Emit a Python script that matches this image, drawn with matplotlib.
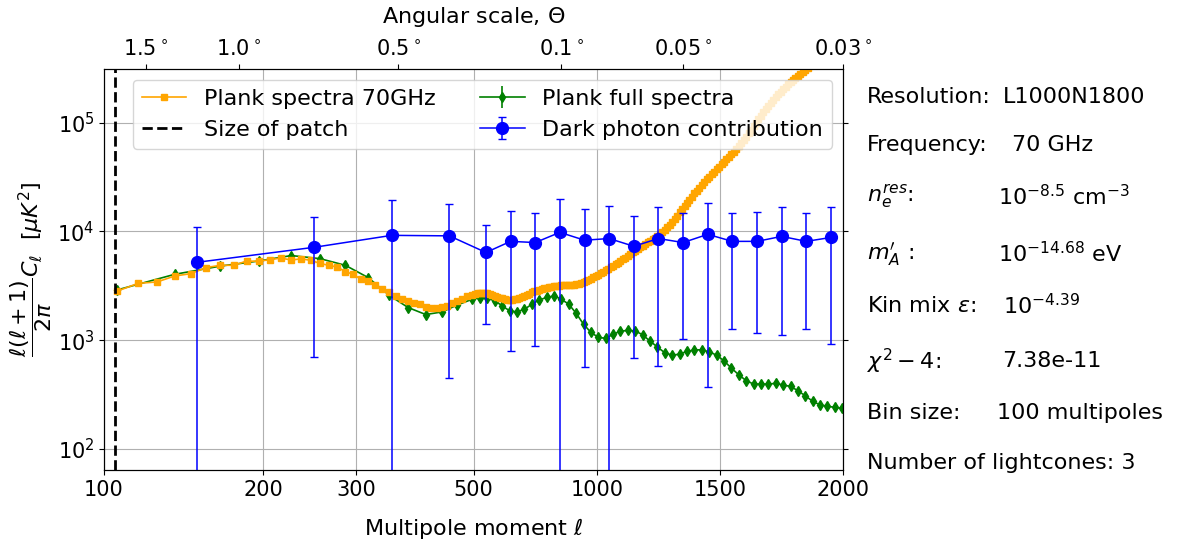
import numpy as np
import matplotlib
matplotlib.use("Agg")
import matplotlib.pyplot as plt
from matplotlib.ticker import FixedLocator, FixedFormatter, NullLocator

# ---------------- data ----------------
# Planck 70 GHz spectrum (orange), sampled every 10 multipoles
orange_ell = np.arange(106, 1857, 10)
orange_val = [
    2830, 3330, 3430, 3890, 4090, 4650, 4880, 4880, 5340, 5310,
    5500, 5690, 5455, 5600, 5420, 5086, 4876, 4706, 4266, 4031,
    3630, 3500, 3216, 2938, 2750, 2540, 2400, 2290, 2200, 2138,
    2030, 1970, 1980, 2010, 2065, 2210, 2303, 2404, 2535, 2620,
    2640, 2700, 2730, 2740, 2740, 2730, 2680, 2620, 2560, 2510,
    2455, 2420, 2377, 2350, 2340, 2350, 2377, 2400, 2430, 2480,
    2550, 2620, 2680, 2760, 2820, 2860, 2900, 2950, 3000, 3030,
    3070, 3100, 3130, 3160, 3180, 3200, 3200, 3210, 3220, 3230,
    3240, 3266, 3300, 3335, 3400, 3480, 3560, 3670, 3770, 3870,
    4000, 4120, 4260, 4390, 4530, 4680, 4830, 4980, 5140, 5310,
    5530, 5710, 5900, 6150, 6420, 6620, 6870, 7130, 7360, 7680,
    7930, 8180, 8450, 8720, 9000, 9290, 9790, 10200, 10900, 11470,
    12220, 13020, 13880, 14940, 15920, 17130, 18250, 19640, 20940, 22540,
    23760, 25310, 26980, 28750, 30300, 31950, 33680, 35500, 37430, 39460,
    41600, 43850, 46230, 48730, 51370, 54160, 57720, 61500, 65550, 69850,
    74440, 80090, 86170, 92710, 99750, 107300, 115500, 124200, 132400, 142400,
    151800, 161700, 172400, 181900, 191900, 202400, 213500, 225200, 235000, 247900,
    258600, 269800, 281400, 293600, 306300, 319600,
]

# Planck full spectrum (green), sampled every 30 multipoles
green_ell = np.arange(106, 1997, 30)
green_val = [
    2900, 4030, 4800, 5340, 6000, 5620, 4880, 3760, 2590, 1995,
    1720, 1820, 2110, 2370, 2460, 2420, 2300, 2070, 1860, 1820,
    1920, 2140, 2340, 2470, 2550, 2380, 2140, 1770, 1400, 1180,
    1060, 1040, 1130, 1210, 1230, 1215, 1120, 980, 865, 765,
    728, 744, 787, 815, 815, 781, 728, 646, 553, 481,
    424, 395, 395, 395, 401, 387, 376, 343, 308, 274,
    254, 247, 241, 236,
]
green_err = [
    120, 160, 190, 210, 240, 220, 190, 150, 100, 80,
    70, 70, 80, 90, 100, 95, 90, 80, 75, 70,
    75, 85, 90, 100, 100, 95, 85, 70, 55, 45,
    42, 40, 45, 48, 49, 48, 45, 39, 35, 31,
    29, 30, 31, 33, 33, 31, 29, 26, 22, 19,
    17, 16, 16, 16, 16, 15, 15, 14, 12, 11,
    10, 10, 10, 10,
]

# Dark photon contribution (blue), bins of 100 multipoles
blue_ell = [150, 250, 350, 450, 550, 650, 750, 850, 950, 1050,
            1150, 1250, 1350, 1450, 1550, 1650, 1750, 1850, 1950]
blue_val = [5200, 7150, 9200, 9100, 6400, 8100, 7900, 9800, 8300, 8600,
            7300, 8600, 7900, 9400, 8100, 8100, 9000, 8100, 8800]
blue_err = [5700, 6450, 10100, 8650, 5000, 7300, 7020, 9900, 7730, 8700,
            6610, 8020, 6880, 9030, 6820, 6940, 7880, 6820, 7880]

patch_ell = 104.7

bottom_ticks = [100, 200, 300, 500, 1000, 1500, 2000]
bottom_labels = ["100", "200", "300", "500", "1000", "1500", "2000"]
top_tick_ell = [120, 180, 360, 855, 1350, 2000]
top_labels = [r"1.5$^\circ$", r"1.0$^\circ$", r"0.5$^\circ$",
              r"0.1$^\circ$", r"0.05$^\circ$", r"0.03$^\circ$"]

info_labels = ["Resolution:", "Frequency:", r"$n_e^{res}$:", r"$m_A'$ :",
               r"Kin mix $\varepsilon$:", r"$\chi^2-4$:", "Bin size:",
               "Number of lightcones: 3"]
info_values = ["L1000N1800", "70 GHz", r"$10^{-8.5}$ cm$^{-3}$",
               r"$10^{-14.68}$ eV", r"$10^{-4.39}$", "7.38e-11",
               "100 multipoles", ""]

# ---------------- scale: log up to 500, linear above ----------------
def fwd(l):
    l = np.asarray(l, dtype=float)
    lg = np.log10(np.clip(l, 1e-6, None))
    return np.where(l <= 500, (lg - 2.0) / np.log10(5.0), 1.0 + (l - 500.0) / 1500.0)

def inv(f):
    f = np.asarray(f, dtype=float)
    return np.where(f <= 1, 100.0 * 5.0 ** np.clip(f, -10, 1), 500.0 + 1500.0 * (f - 1.0))

FS = 16
TFS = 15
fig = plt.figure(figsize=(11.86, 5.45), dpi=100)
ax = fig.add_axes([0.0877, 0.1376, 0.711 - 0.0877, 0.873 - 0.1376])
ax.set_xscale('function', functions=(fwd, inv))
ax.set_yscale('log')

h1, = ax.plot(orange_ell, orange_val, color='orange', marker='s', markersize=5,
              linewidth=1.2, label='Plank spectra 70GHz', zorder=3)
h2 = ax.axvline(patch_ell, color='black', linestyle='--', linewidth=2,
                label='Size of patch', zorder=4)
h3 = ax.errorbar(green_ell, green_val, yerr=green_err, color='green', marker='d',
                 markersize=5, linewidth=1.2, label='Plank full spectra', zorder=2)
h4 = ax.errorbar(blue_ell, blue_val, yerr=blue_err, color='blue', marker='o',
                 markersize=8.5, linewidth=1.1, capsize=3,
                 label='Dark photon contribution', zorder=5)

ax.set_xlim(100, 2000)
ax.set_ylim(64, 3.1e5)
ax.xaxis.set_major_locator(FixedLocator(bottom_ticks))
ax.xaxis.set_major_formatter(FixedFormatter(bottom_labels))
ax.xaxis.set_minor_locator(NullLocator())
ax.yaxis.set_minor_locator(NullLocator())
ax.set_yticks([1e2, 1e3, 1e4, 1e5])
ax.tick_params(axis='both', labelsize=TFS)
ax.tick_params(axis='y', right=True)
ax.grid(True, color='#b0b0b0', linewidth=0.8)
ax.set_axisbelow(True)

ax.set_xlabel(r'Multipole moment $\ell$', fontsize=FS, labelpad=12)
ax.set_ylabel(r'$\dfrac{\ell(\ell+1)}{2\pi}C_\ell$  [$\mu K^2$]', fontsize=FS, labelpad=2)

leg = ax.legend(handles=[h1, h2, h3, h4], ncol=2, fontsize=FS, loc='upper left',
                bbox_to_anchor=(0.039, 0.973), borderaxespad=0, columnspacing=2.0)

ax2 = ax.twiny()
ax2.set_xscale('function', functions=(fwd, inv))
ax2.set_xlim(100, 2000)
ax2.xaxis.set_major_locator(FixedLocator(top_tick_ell))
ax2.xaxis.set_major_formatter(FixedFormatter(top_labels))
ax2.xaxis.set_minor_locator(NullLocator())
ax2.tick_params(axis='x', labelsize=TFS)
ax2.set_xlabel(r'Angular scale, $\Theta$', fontsize=FS, labelpad=12)

ys = [97, 145, 197, 254, 306, 361, 413, 463]
xv = [1003, 1012, 998, 998, 1003, 1002, 997, 1000]
for lab, val, ypx, xpx in zip(info_labels, info_values, ys, xv):
    fig.text(867 / 1186, 1 - ypx / 545, lab, fontsize=FS, va='center', ha='left')
    if val:
        fig.text(xpx / 1186, 1 - ypx / 545, val, fontsize=FS, va='center', ha='left')

fig.savefig('out.png', dpi=100)
